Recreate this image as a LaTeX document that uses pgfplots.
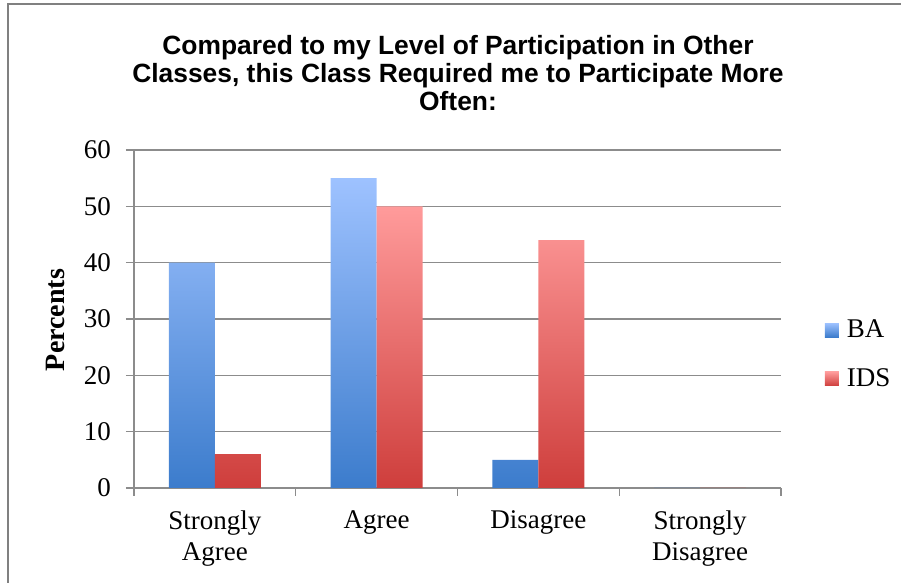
\documentclass[border=0pt]{standalone}
\usepackage{fontspec}
\setmainfont{Liberation Serif}
\newfontfamily\titlefont{Liberation Sans}
\usepackage{pgfplots}
\pgfplotsset{compat=1.18}

\definecolor{baTop}{RGB}{158,194,255}
\definecolor{baBot}{RGB}{60,124,204}
\definecolor{idsTop}{RGB}{255,155,155}
\definecolor{idsBot}{RGB}{206,62,60}
\definecolor{gridgray}{RGB}{140,140,140}
\definecolor{framegray}{RGB}{128,128,128}

\begin{document}
\begin{tikzpicture}
\useasboundingbox (0,0) rectangle (450.5pt,291.5pt);
% chart frame
\draw[framegray, line width=1pt] (4pt,0) -- (4pt,289.5pt) -- (451pt,289.5pt);
% title
\node[font=\titlefont\bfseries\fontsize{13.2}{14}\selectfont, align=center]
  at (229pt,255pt)
  {Compared to my Level of Participation in Other\\Classes, this Class Required me to Participate More\\Often:};
\begin{axis}[
  at={(67pt,47.5pt)}, anchor=south west,
  scale only axis, width=323.5pt, height=169pt,
  ybar=0pt, bar width=23pt,
  xmin=-0.5, xmax=3.5, ymin=0, ymax=60,
  axis lines*=left,
  axis line style={gridgray, line width=0.6pt},
  /pgf/number format/assume math mode=true,
  xtick={0,1,2,3},
  xticklabels={{Strongly\\Agree},Agree,Disagree,{Strongly\\Disagree}},
  xticklabel style={align=center, font=\fontsize{13.5}{15.5}\selectfont, yshift=-4pt},
  minor xtick={-0.5,0.5,1.5,2.5,3.5},
  major x tick style={draw=none},
  ytick={0,10,...,60},
  yticklabel style={font=\fontsize{13.5}{15}\selectfont, xshift=-4pt},
  tick align=outside,
  major tick length=4pt, minor tick length=4pt,
  tick style={gridgray, line width=0.6pt},
  ymajorgrids, grid style={gridgray, line width=0.6pt},
  ylabel={Percents},
  ylabel style={font=\bfseries\fontsize{14}{16}\selectfont,
    at={(axis description cs:-0.1206,0.497)}, anchor=center, rotate=0},
  legend style={at={(1.058,0.395)}, anchor=west, draw=none, fill=none,
    font=\fontsize{13.5}{15}\selectfont, row sep=10pt,
    nodes={inner xsep=4pt}},
  legend cell align=left,
]
\addplot[draw=none, top color=baTop, bottom color=baBot,
  legend image code/.code={\fill[top color=baTop, bottom color=baBot] (0pt,-3.5pt) rectangle (7pt,3.5pt);}]
  coordinates {(0,40) (1,55) (2,5) (3,0)};
\addplot[draw=none, top color=idsTop, bottom color=idsBot,
  legend image code/.code={\fill[top color=idsTop, bottom color=idsBot] (0pt,-3.5pt) rectangle (7pt,3.5pt);}]
  coordinates {(0,6) (1,50) (2,44) (3,0)};
\legend{BA,IDS}
\end{axis}
\end{tikzpicture}
\end{document}
